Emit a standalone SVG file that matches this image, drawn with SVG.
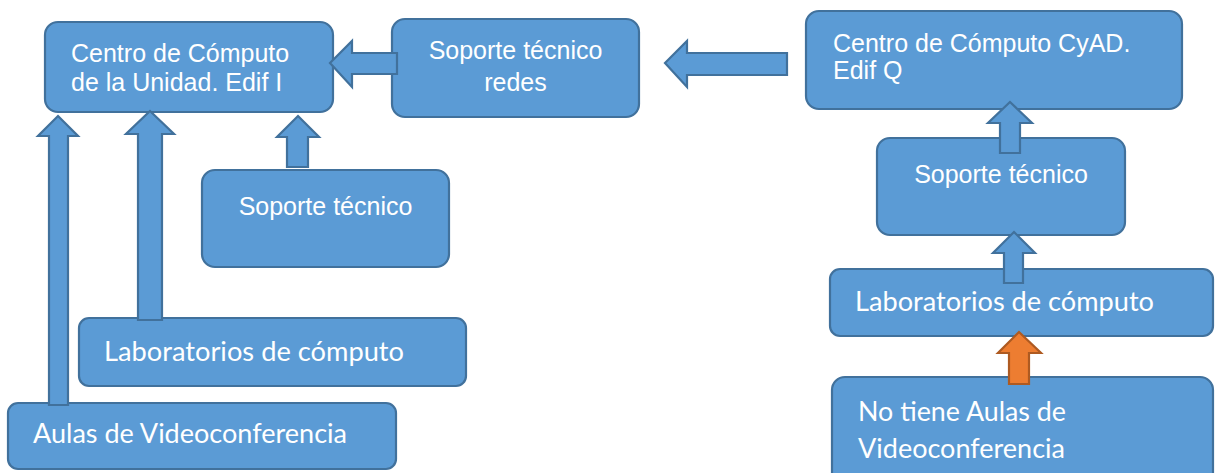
<svg xmlns="http://www.w3.org/2000/svg" width="1215" height="473" viewBox="0 0 1215 473">
<style>
.box{fill:#5B9BD5;stroke:#41719C;stroke-width:2.2}
.arr{fill:#5B9BD5;stroke:#41719C;stroke-width:2.2;stroke-linejoin:miter}
.arrO{fill:#ED7D31;stroke:#AE5A21;stroke-width:2.2}
.a{font-family:"Liberation Sans",Arial,sans-serif;font-size:25px;fill:#FFFFFF}
.c{font-family:Lato,"Open Sans",sans-serif;font-size:27px;fill:#FFFFFF}
</style>
<rect width="1215" height="473" fill="#FFFFFF"/>
<g id="n-centro-unidad">
<rect class="box" x="45" y="22" width="288" height="90" rx="13"/>
<text class="a" x="71" y="62">Centro de Cómputo</text>
<text class="a" x="71" y="91">de la Unidad. Edif I</text>
</g>
<g id="n-soporte-redes">
<rect class="box" x="392" y="19" width="247" height="98" rx="13"/>
<text class="a" x="515.5" y="59" text-anchor="middle">Soporte técnico</text>
<text class="a" x="515.5" y="91" text-anchor="middle">redes</text>
</g>
<g id="n-soporte-izq">
<rect class="box" x="202" y="170" width="247" height="97" rx="13"/>
<text class="a" x="325.5" y="215" text-anchor="middle">Soporte técnico</text>
</g>
<g id="n-lab-izq">
<rect class="box" x="79" y="318" width="387" height="68" rx="10"/>
<text class="c" x="104" y="361" textLength="300" lengthAdjust="spacingAndGlyphs">Laboratorios de cómputo</text>
</g>
<g id="n-aulas">
<rect class="box" x="8" y="403" width="388" height="66" rx="10"/>
<text class="c" x="33" y="443" textLength="314" lengthAdjust="spacingAndGlyphs">Aulas de Videoconferencia</text>
</g>
<g id="n-centro-cyad">
<rect class="box" x="806" y="11" width="376" height="98" rx="13"/>
<text class="a" x="833" y="52">Centro de Cómputo CyAD.</text>
<text class="a" x="833" y="79">Edif Q</text>
</g>
<g id="n-soporte-der">
<rect class="box" x="877" y="138" width="248" height="97" rx="13"/>
<text class="a" x="1001" y="183" text-anchor="middle">Soporte técnico</text>
</g>
<g id="n-lab-der">
<rect class="box" x="830" y="269" width="383" height="67" rx="10"/>
<text class="c" x="855" y="311" textLength="299" lengthAdjust="spacingAndGlyphs">Laboratorios de cómputo</text>
</g>
<g id="n-no-aulas">
<rect class="box" x="832" y="377" width="381" height="110" rx="13"/>
<text class="c" x="858" y="421" textLength="208" lengthAdjust="spacingAndGlyphs">No tiene Aulas de</text>
<text class="c" x="858" y="458" textLength="207" lengthAdjust="spacingAndGlyphs">Videoconferencia</text>
</g>
<g id="connectors">
<polygon class="arr" points="58,116 78,136 68,136 68,405 49,405 49,136 38,136"/>
<polygon class="arr" points="150,111 174,134 162,134 162,320 138,320 138,134 126,134"/>
<polygon class="arr" points="298,116 319,137 308,137 308,167 287,167 287,137 277,137"/>
<polygon class="arr" points="330,63 352,41 352,53 397,53 397,74 352,74 352,87"/>
<polygon class="arr" points="665,63 687,41 687,53 787,53 787,75 687,75 687,87"/>
<polygon class="arr" points="1010,102 1032,123 1020,123 1020,153 1000,153 1000,123 988,123"/>
<polygon class="arr" points="1014,232 1035,253 1023,253 1023,283 1004,283 1004,253 993,253"/>
<polygon class="arrO" points="1019,332 1041,353 1029,353 1029,384 1009,384 1009,353 998,353"/>
</g>
</svg>
